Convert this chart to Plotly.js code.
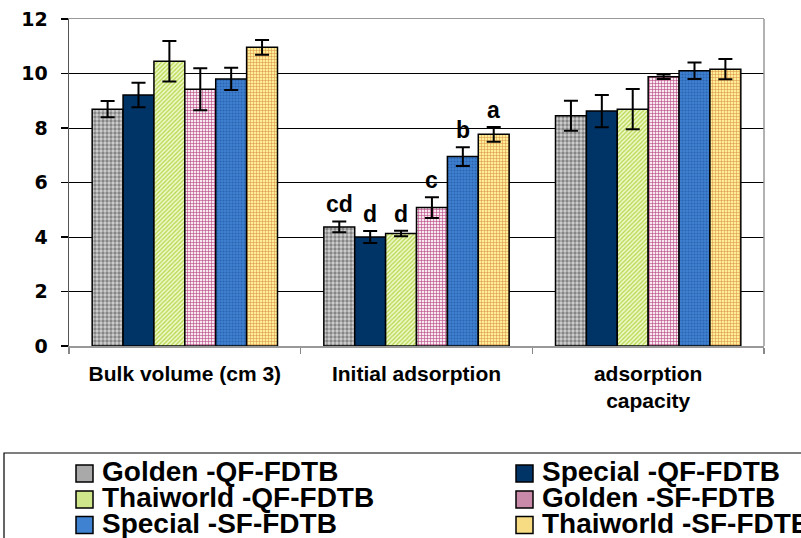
<!DOCTYPE html>
<html>
<head>
<meta charset="utf-8">
<script src="https://cdn.plot.ly/plotly-3.0.1.min.js"></script>
<style>html,body{margin:0;padding:0;background:#fff;}#chart{width:801px;height:538px;}</style>
</head>
<body>
<div id="chart"></div>
<script>
// ---- data ----
const categories = ['Bulk volume (cm 3)', 'Initial adsorption', 'adsorption<br>capacity'];
const seriesNames = ['Golden -QF-FDTB', 'Special -QF-FDTB', 'Thaiworld -QF-FDTB', 'Golden -SF-FDTB', 'Special -SF-FDTB', 'Thaiworld -SF-FDTB'];
const goldenQF = [8.69, 4.37, 8.45];
const goldenQFErr = [0.30, 0.20, 0.55];
const specialQF = [9.21, 4.00, 8.62];
const specialQFErr = [0.45, 0.22, 0.59];
const thaiworldQF = [10.45, 4.13, 8.69];
const thaiworldQFErr = [0.74, 0.10, 0.74];
const goldenSF = [9.42, 5.08, 9.88];
const goldenSFErr = [0.77, 0.38, 0.08];
const specialSF = [9.80, 6.95, 10.10];
const specialSFErr = [0.41, 0.34, 0.30];
const thaiworldSF = [10.96, 7.77, 10.16];
const thaiworldSFErr = [0.27, 0.27, 0.37];
const initialLetters = ['cd', 'd', 'd', 'c', 'b', 'a'];
const yTicks = [0, 2, 4, 6, 8, 10, 12];

// ---- styles ----
const values = [goldenQF, specialQF, thaiworldQF, goldenSF, specialSF, thaiworldSF];
const errs = [goldenQFErr, specialQFErr, thaiworldQFErr, goldenSFErr, specialSFErr, thaiworldSFErr];
const patterns = [
  {shape: '.', bgcolor: '#d2d2d2', fgcolor: '#858585', size: 4, solidity: 0.55},
  {shape: '', bgcolor: '#003366', fgcolor: '#003366'},
  {shape: '/', bgcolor: '#f0f8c8', fgcolor: '#b2d64a', size: 3, solidity: 0.4},
  {shape: '+', bgcolor: '#f6eaf0', fgcolor: '#b8407e', size: 3, solidity: 0.35},
  {shape: '.', bgcolor: '#3f82d2', fgcolor: '#2b63ad', size: 3, solidity: 0.4},
  {shape: '+', bgcolor: '#ffee98', fgcolor: '#d88a40', size: 3, solidity: 0.3}
];
const iconColors = ['#a9a9a9', '#003366', '#cfe68a', '#c98aa9', '#3f82d2', '#f7dc84'];

const W = 801, H = 538;
const M = {l: 69, r: 37, t: 19, b: 192};
const pw = W - M.l - M.r, ph = H - M.t - M.b;
const px2x = p => (p - M.l) / pw;
const py2y = p => (H - M.b - p) / ph;

const traces = seriesNames.map((name, i) => ({
  type: 'bar',
  name: name,
  x: categories,
  y: values[i],
  marker: {color: patterns[i].bgcolor, pattern: patterns[i], line: {color: '#000', width: 1.5}},
  error_y: {type: 'data', array: errs[i], visible: true, color: '#000', thickness: 2, width: 7},
  showlegend: false,
  hoverinfo: 'skip'
}));

const nS = seriesNames.length;
const groupFrac = 0.8;
const annotations = [];
initialLetters.forEach((t, i) => {
  annotations.push({
    xref: 'x', yref: 'y',
    x: 1 + (i - (nS - 1) / 2) * groupFrac / nS,
    y: values[i][1] + errs[i][1],
    text: t, showarrow: false, yanchor: 'bottom', yshift: 2,
    font: {family: 'Liberation Sans, Arial', size: 23, color: '#000', weight: 'bold'}
  });
});

// legend (drawn manually)
const shapes = [];
shapes.push({type: 'line', xref: 'paper', yref: 'paper', x0: 1, x1: 1, y0: 0, y1: 1,
  line: {color: '#999', width: 1.5}});
shapes.push({type: 'rect', xref: 'paper', yref: 'paper', x0: px2x(4), x1: px2x(830), y0: py2y(453), y1: py2y(560),
  line: {color: '#000', width: 1.2}, fillcolor: 'rgba(0,0,0,0)', layer: 'above'});
const colIconX = [76, 516];
const colTextX = [100, 540];
const rowY = [471.5, 497.5, 523];
seriesNames.forEach((name, i) => {
  const c = i % 2, r = Math.floor(i / 2);
  shapes.push({type: 'rect', xref: 'paper', yref: 'paper',
    x0: px2x(colIconX[c]), x1: px2x(colIconX[c] + 17), y0: py2y(rowY[r] - 8.5 + 2), y1: py2y(rowY[r] + 8.5 + 2),
    line: {color: '#000', width: 1.5}, fillcolor: iconColors[i], layer: 'above'});
  annotations.push({xref: 'paper', yref: 'paper', x: px2x(colTextX[c]), y: py2y(rowY[r]),
    xanchor: 'left', yanchor: 'middle', text: name, showarrow: false,
    font: {family: 'Liberation Sans, Arial', size: 28, color: '#000', weight: 'bold'}});
});

const layout = {
  width: W, height: H,
  margin: M,
  paper_bgcolor: '#fff', plot_bgcolor: '#fff',
  barmode: 'group', bargap: 1 - groupFrac, bargroupgap: 0,
  showlegend: false,
  xaxis: {
    type: 'category', tickson: 'boundaries', ticks: 'outside', ticklen: 6, tickcolor: '#888', tickwidth: 1.5,
    showline: true, linecolor: '#999', linewidth: 1.5, mirror: true, showgrid: false,
    tickfont: {family: 'Liberation Sans, Arial', size: 21, color: '#000', weight: 'bold'},
    ticklabelstandoff: 8
  },
  yaxis: {
    range: [0, 12], tickvals: yTicks, ticks: 'outside', ticklen: 7, tickcolor: '#000', tickwidth: 1.2,
    showline: true, linecolor: '#555', linewidth: 1.5, mirror: false,
    showgrid: true, gridcolor: '#000', gridwidth: 1, zeroline: false,
    tickfont: {family: 'DejaVu Sans', size: 19, color: '#000', weight: 'bold'},
    ticklabelstandoff: 9
  },
  annotations: annotations,
  shapes: shapes
};

Plotly.newPlot('chart', traces, layout, {staticPlot: true, displayModeBar: false});
</script>
</body>
</html>
